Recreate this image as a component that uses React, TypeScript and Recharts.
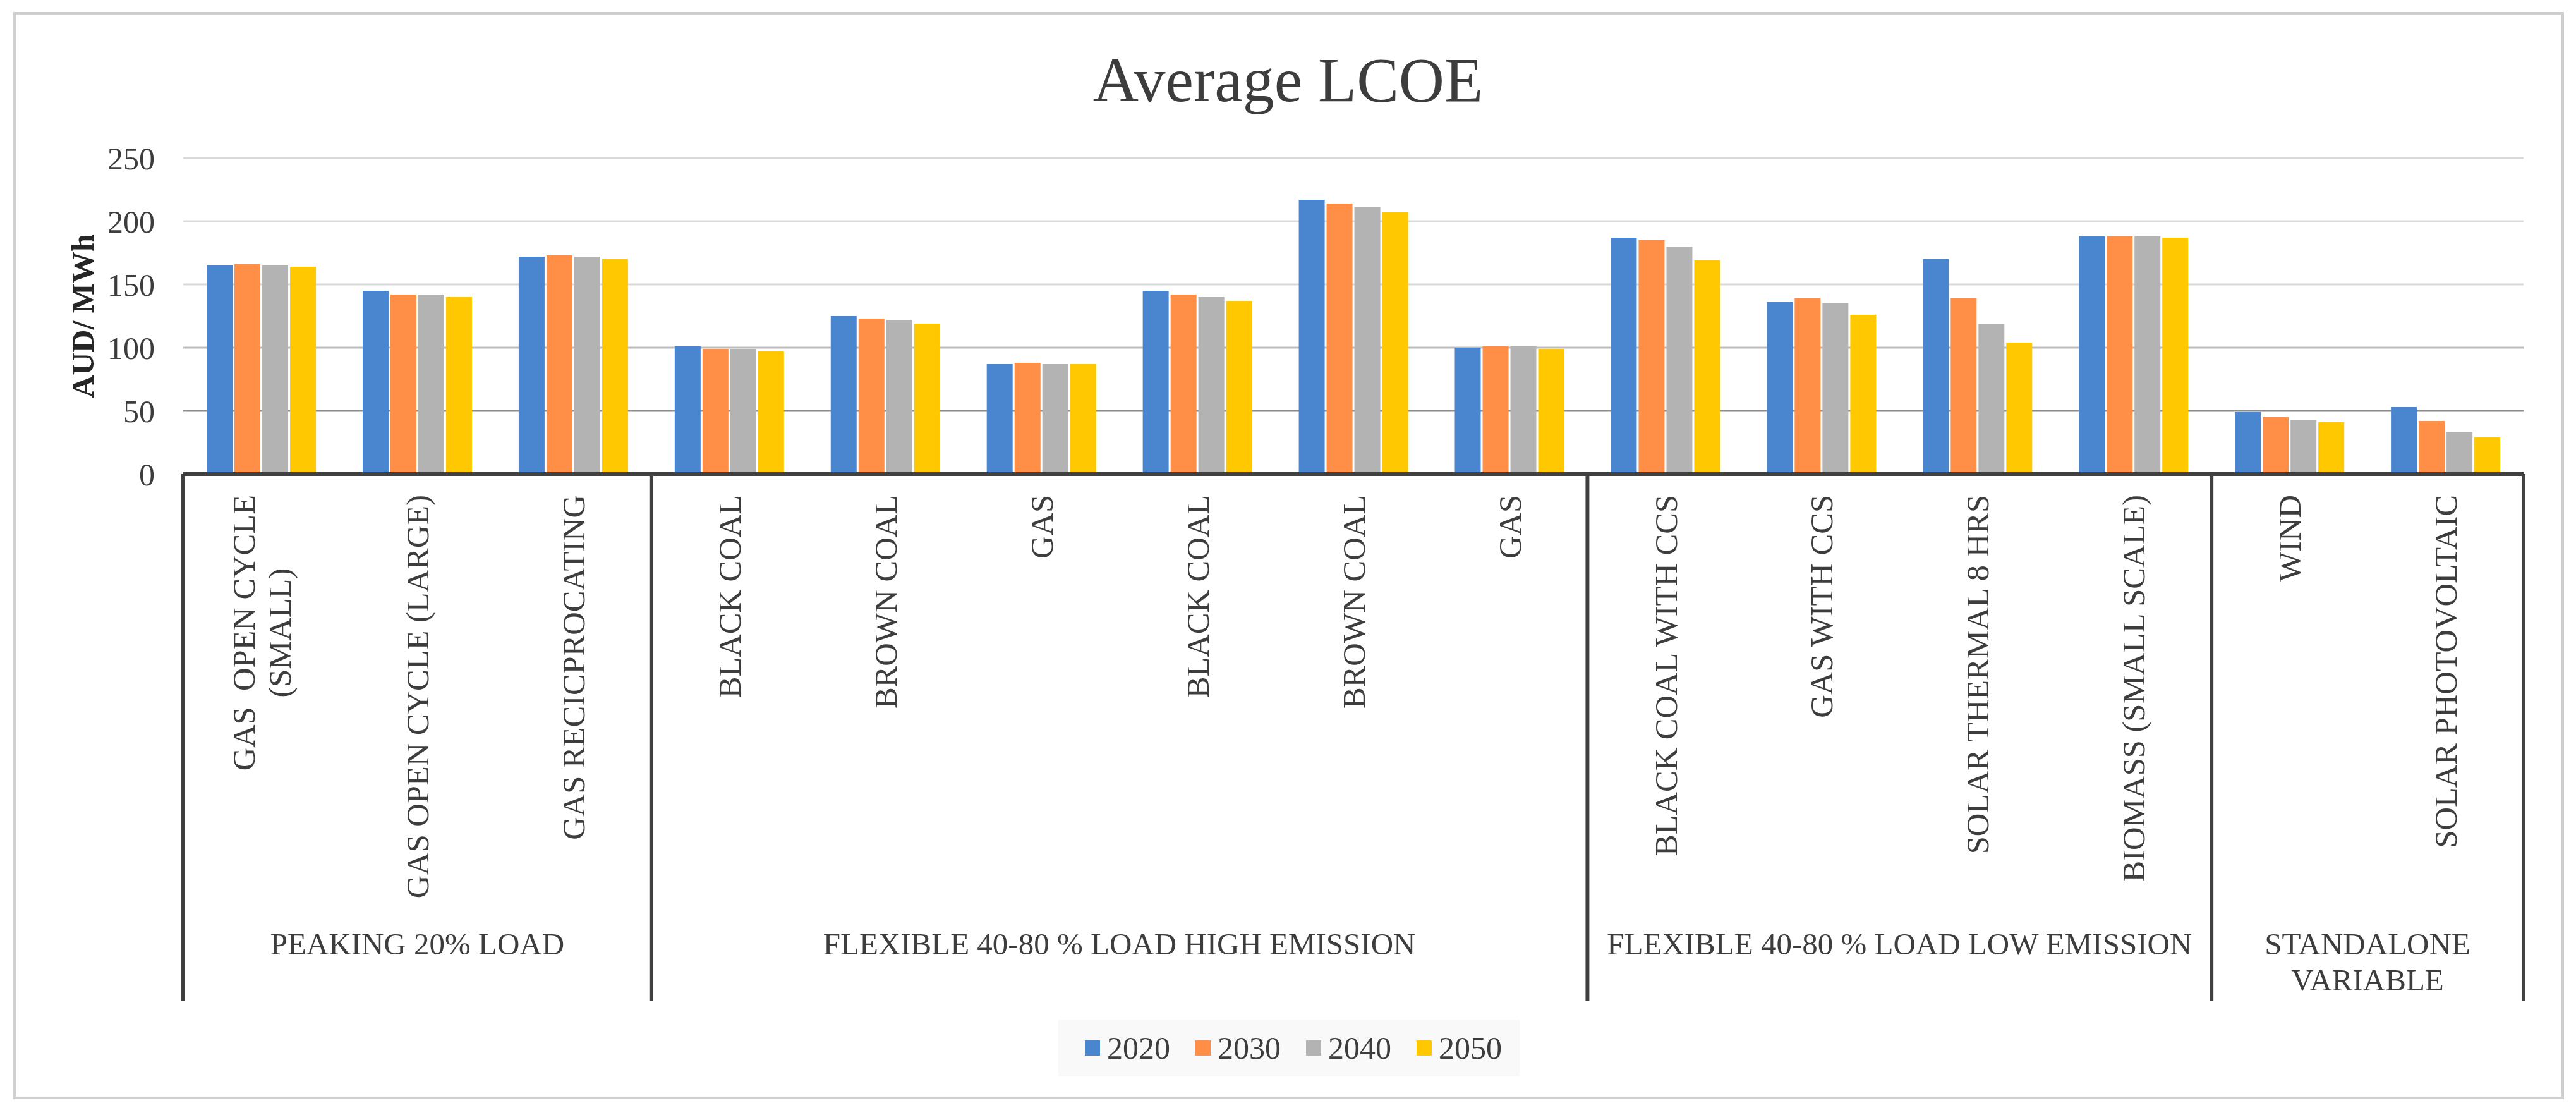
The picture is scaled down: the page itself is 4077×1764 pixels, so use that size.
import { Bar, BarChart, CartesianGrid, Customized, Legend, XAxis, YAxis } from "recharts"

const categories = [
    "GAS  OPEN CYCLE\n(SMALL)",
    "GAS OPEN CYCLE (LARGE)",
    "GAS RECICPROCATING",
    "BLACK COAL",
    "BROWN COAL",
    "GAS",
    "BLACK COAL",
    "BROWN COAL",
    "GAS",
    "BLACK COAL WITH CCS",
    "GAS WITH CCS",
    "SOLAR THERMAL 8 HRS",
    "BIOMASS (SMALL SCALE)",
    "WIND",
    "SOLAR PHOTOVOLTAIC",
]
const groupNames = [
    "PEAKING 20% LOAD",
    "FLEXIBLE 40-80 % LOAD HIGH EMISSION",
    "FLEXIBLE 40-80 % LOAD LOW EMISSION",
    "STANDALONE\nVARIABLE",
]
const groupSizes = [3, 6, 4, 2]

const years = ["2020", "2030", "2040", "2050"]
const v2020 = [165, 145, 172, 101, 125, 87, 145, 217, 100, 187, 136, 170, 188, 49, 53]
const v2030 = [166, 142, 173, 99, 123, 88, 142, 214, 101, 185, 139, 139, 188, 45, 42]
const v2040 = [165, 142, 172, 99, 122, 87, 140, 211, 101, 180, 135, 119, 188, 43, 33]
const v2050 = [164, 140, 170, 97, 119, 87, 137, 207, 99, 169, 126, 104, 187, 41, 29]
const yTicks = [0, 50, 100, 150, 200, 250]

const colors = ["#4A86CF", "#FF8E47", "#B3B3B3", "#FFC800"]
const series = [v2020, v2030, v2040, v2050]

const data = categories.map((label, i) => {
    const row: Record<string, string | number> = { id: String(i), label }
    years.forEach((y, s) => (row[y] = series[s][i]))
    return row
})

const W = 4077
const H = 1764
const M = { top: 250, right: 83, bottom: 0, left: 0 }
const Y_AXIS_W = 290
const X_AXIS_H = 1014
const BAND = (W - M.left - M.right - Y_AXIS_W) / categories.length
const FONT = '"Liberation Serif", "Times New Roman", serif'
const TEXT = "#3d3d3d"
const LINE = "#404040"
const CAT_FS = 50.5
const GROUP_FS = 49

let ctx: CanvasRenderingContext2D | null = null
function textWidth(s: string, size: number) {
    if (!ctx) ctx = document.createElement("canvas").getContext("2d")
    if (!ctx) return s.length * size * 0.6
    ctx.font = `${size}px "Liberation Serif"`
    return ctx.measureText(s).width
}

// group start indexes
const groupStart: number[] = []
groupSizes.reduce((acc, n) => {
    groupStart.push(acc)
    return acc + n
}, 0)

function CategoryTick(props: any) {
    const { x, y, payload } = props
    const i = payload.index as number
    const lines = categories[i].split("\n")
    const top = y + 33
    const out: any[] = []

    if (lines.length === 1) {
        out.push(
            <text key="l" x={x} y={top} transform={`rotate(-90, ${x}, ${top})`} textAnchor="end" dy="0.35em"
                fontSize={CAT_FS} fontFamily={FONT} fill={TEXT} style={{ whiteSpace: "pre" }}>
                {lines[0]}
            </text>
        )
    } else {
        const mid = top + textWidth(lines[0], CAT_FS) / 2
        lines.forEach((ln, k) => {
            const lx = x + (k - (lines.length - 1) / 2) * 57
            out.push(
                <text key={k} x={lx} y={mid} transform={`rotate(-90, ${lx}, ${mid})`} textAnchor="middle" dy="0.35em"
                    fontSize={CAT_FS} fontFamily={FONT} fill={TEXT} style={{ whiteSpace: "pre" }}>
                    {ln}
                </text>
            )
        })
    }

    const g = groupStart.indexOf(i)
    if (g >= 0) {
        const left = x - BAND / 2
        out.push(<line key="sep" x1={left} x2={left} y1={y} y2={y + 834} stroke={LINE} strokeWidth={6} />)
        const gc = left + (groupSizes[g] * BAND) / 2
        groupNames[g].split("\n").forEach((ln, k) => {
            out.push(
                <text key={`g${k}`} x={gc} y={y + 743 + k * 57} textAnchor="middle" dy="0.35em"
                    fontSize={GROUP_FS} fontFamily={FONT} fill={TEXT}>
                    {ln}
                </text>
            )
        })
    }
    if (i === categories.length - 1) {
        const right = x + BAND / 2
        out.push(<line key="end" x1={right} x2={right} y1={y} y2={y + 834} stroke={LINE} strokeWidth={6} />)
    }
    return <g>{out}</g>
}

function Frame() {
    return (
        <g>
            <rect x={23} y={21} width={4033} height={1716} fill="none" stroke="#cfcfcf" strokeWidth={4} />
            <text x={W / 2} y={160} textAnchor="middle" fontSize={100} fontFamily={FONT} fill={TEXT}>
                Average LCOE
            </text>
        </g>
    )
}

function LegendBox() {
    return (
        <div style={{ display: "flex", alignItems: "center", height: 90, paddingLeft: 42, background: "#f9f9f9", fontFamily: FONT, fontSize: 50, color: TEXT }}>
            {years.map((y, s) => (
                <div key={y} style={{ display: "flex", alignItems: "center", marginRight: 40 }}>
                    <span style={{ width: 24, height: 24, background: colors[s], marginRight: 11, display: "inline-block" }} />
                    <span style={{ lineHeight: 1 }}>{y}</span>
                </div>
            ))}
        </div>
    )
}

export default function App() {
    return (
        <div style={{ position: "absolute", left: 0, top: 0, width: W, height: H, background: "#fff" }}>
            <BarChart width={W} height={H} data={data} margin={M} barCategoryGap="15%" barGap={3}>
                <Customized component={Frame} />
                <CartesianGrid vertical={false} stroke="#d9d9d9" strokeWidth={3} horizontalValues={[150, 200, 250]} />
                <CartesianGrid vertical={false} stroke="#bdbdbd" strokeWidth={3} horizontalValues={[100]} />
                <CartesianGrid vertical={false} stroke="#8c8c8c" strokeWidth={3} horizontalValues={[50]} />
                <XAxis dataKey="id" type="category" height={X_AXIS_H} interval={0} tickSize={0} tickMargin={0}
                    tickLine={false} axisLine={{ stroke: LINE, strokeWidth: 6 }} tick={<CategoryTick />} />
                <YAxis width={Y_AXIS_W} domain={[0, 250]} ticks={yTicks} axisLine={false} tickLine={false}
                    tickSize={0} tickMargin={45}
                    tick={{ fontSize: 50, fontFamily: FONT, fill: TEXT }}
                    label={{
                        content: (p: any) => {
                            const vb = p.viewBox
                            const cx = vb.x + 130
                            const cy = vb.y + vb.height / 2
                            return (
                                <text x={cx} y={cy} transform={`rotate(-90, ${cx}, ${cy})`} textAnchor="middle" dy="0.35em"
                                    fontSize={50} fontWeight="bold" fontFamily={FONT} fill="#262626">
                                    AUD/ MWh
                                </text>
                            )
                        },
                    }} />
                <Legend layout="horizontal" verticalAlign="middle" align="center"
                    wrapperStyle={{ top: 1613, left: 1675, width: 730, height: 90 }}
                    content={() => <LegendBox />} />
                {years.map((y, s) => (
                    <Bar key={y} dataKey={y} name={y} fill={colors[s]} isAnimationActive={false} />
                ))}
            </BarChart>
        </div>
    )
}
